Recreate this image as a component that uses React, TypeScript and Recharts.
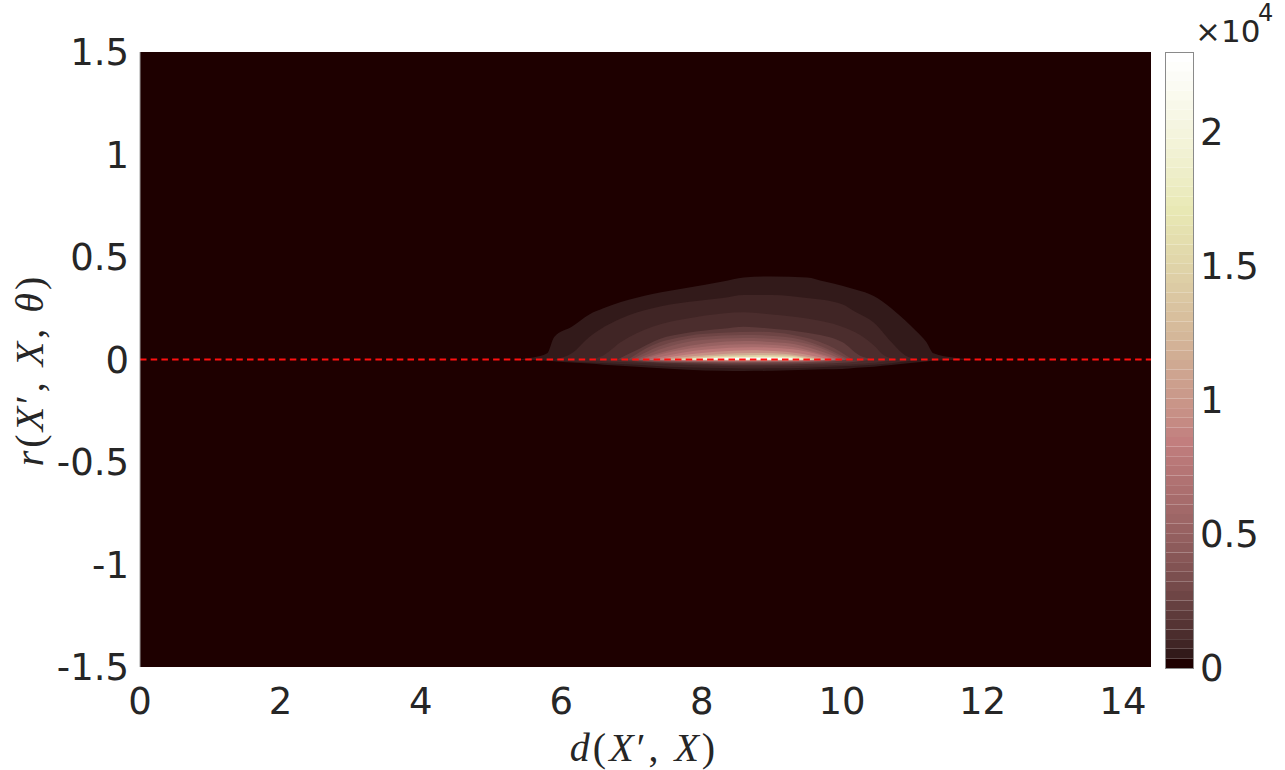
import React from "react";
import {
  ComposedChart,
  Area,
  XAxis,
  YAxis,
  CartesianGrid,
  ReferenceLine,
  BarChart,
  Bar,
} from "recharts";

// axis ticks
const xTicks = [0, 2, 4, 6, 8, 10, 12, 14];
const yTicks = [-1.5, -1, -0.5, 0, 0.5, 1, 1.5];
const cTicks = [0, 0.5, 1, 1.5, 2];
const cMax = 2.3; // x 10^4

// density bands: [d, r low, r high]
// outer band = colormap level 1, inner bands get lighter
const band01 = [
  [5.3, 0, 0], [5.6, -0.003, 0.01], [5.8, -0.006, 0.03], [5.9, -0.008, 0.11],
  [6.15, -0.015, 0.16], [6.4, -0.02, 0.22], [6.6, -0.025, 0.25], [6.85, -0.03, 0.28],
  [7.3, -0.04, 0.32], [7.8, -0.05, 0.35], [8.3, -0.055, 0.38], [8.6, -0.056, 0.4],
  [9.0, -0.055, 0.405], [9.5, -0.05, 0.4], [9.75, -0.048, 0.38], [10.0, -0.046, 0.36],
  [10.2, -0.04, 0.34], [10.45, -0.035, 0.31], [10.7, -0.027, 0.25], [10.9, -0.02, 0.19],
  [11.05, -0.015, 0.14], [11.2, -0.01, 0.085], [11.3, -0.006, 0.03], [11.6, -0.003, 0.008],
  [11.9, 0, 0],
];
const band02 = [
  [5.9, 0, 0], [6.15, -0.01, 0.03], [6.4, -0.015, 0.11], [6.85, -0.022, 0.2],
  [7.3, -0.03, 0.25], [7.8, -0.038, 0.28], [8.3, -0.042, 0.3], [8.6, -0.044, 0.315],
  [9.0, -0.043, 0.315], [9.5, -0.04, 0.3], [10.0, -0.033, 0.27], [10.2, -0.03, 0.23],
  [10.45, -0.025, 0.18], [10.7, -0.018, 0.085], [10.9, -0.01, 0.02], [11.1, 0, 0],
];
const band03 = [
  [6.4, 0, 0], [6.6, -0.008, 0.02], [6.85, -0.012, 0.085], [7.3, -0.02, 0.16],
  [7.8, -0.027, 0.2], [8.3, -0.032, 0.225], [8.6, -0.034, 0.23], [9.0, -0.034, 0.22],
  [9.5, -0.031, 0.2], [10.0, -0.026, 0.16], [10.2, -0.022, 0.13], [10.45, -0.016, 0.07],
  [10.6, -0.01, 0.02], [10.8, 0, 0],
];
const band04 = [
  [6.8, 0, 0], [7.1, -0.01, 0.05], [7.4, -0.015, 0.1], [7.8, -0.02, 0.13],
  [8.3, -0.024, 0.15], [8.6, -0.025, 0.16], [9.0, -0.025, 0.15], [9.5, -0.022, 0.13],
  [10.0, -0.016, 0.085], [10.25, -0.008, 0.02], [10.45, 0, 0],
];
const band05 = [
  [6.95, 0, 0], [7.3, -0.012, 0.07], [7.8, -0.016, 0.115], [8.3, -0.019, 0.13],
  [8.8, -0.02, 0.135], [9.3, -0.018, 0.12], [9.8, -0.012, 0.07], [10.15, 0, 0],
];
const band06 = [
  [7.0, 0, 0], [7.4, -0.01, 0.065], [8.0, -0.014, 0.11], [8.6, -0.016, 0.12],
  [9.2, -0.015, 0.11], [9.7, -0.01, 0.065], [10.1, 0, 0],
];
const band07 = [
  [7.05, 0, 0], [7.5, -0.008, 0.06], [8.0, -0.012, 0.095], [8.6, -0.013, 0.105],
  [9.2, -0.012, 0.095], [9.7, -0.008, 0.055], [10.05, 0, 0],
];
const band08 = [
  [7.1, 0, 0], [7.6, -0.007, 0.05], [8.1, -0.01, 0.08], [8.6, -0.011, 0.09],
  [9.2, -0.01, 0.08], [9.65, -0.007, 0.045], [10.0, 0, 0],
];
const band09 = [
  [7.15, 0, 0], [7.6, -0.006, 0.04], [8.1, -0.008, 0.065], [8.6, -0.009, 0.075],
  [9.2, -0.008, 0.066], [9.6, -0.005, 0.037], [9.95, 0, 0],
];
const band10 = [
  [7.25, 0, 0], [7.7, -0.005, 0.032], [8.1, -0.007, 0.05], [8.7, -0.007, 0.06],
  [9.3, -0.006, 0.05], [9.6, -0.004, 0.03], [9.9, 0, 0],
];
const band11 = [
  [7.35, 0, 0], [7.8, -0.004, 0.024], [8.2, -0.005, 0.038], [8.7, -0.006, 0.045],
  [9.2, -0.005, 0.038], [9.55, -0.003, 0.02], [9.85, 0, 0],
];
const band12 = [
  [7.45, 0, 0], [7.9, -0.003, 0.017], [8.3, -0.004, 0.027], [8.7, -0.004, 0.032],
  [9.2, -0.004, 0.027], [9.5, -0.002, 0.014], [9.8, 0, 0],
];
const band13 = [
  [7.55, 0, 0], [8.0, -0.002, 0.012], [8.4, -0.003, 0.019], [8.8, -0.003, 0.022],
  [9.2, -0.003, 0.019], [9.45, -0.002, 0.01], [9.7, 0, 0],
];
const band14 = [
  [7.65, 0, 0], [8.1, -0.001, 0.009], [8.5, -0.002, 0.013], [8.9, -0.002, 0.015],
  [9.3, -0.001, 0.011], [9.6, 0, 0],
];
const band15 = [
  [7.75, 0.001, 0.001], [8.2, 0, 0.007], [8.6, -0.001, 0.01], [9.0, -0.001, 0.01],
  [9.3, 0, 0.007], [9.5, 0.001, 0.001],
];
const band16 = [
  [7.9, 0.002, 0.002], [8.3, 0.001, 0.006], [8.7, 0.001, 0.007], [9.1, 0.001, 0.006],
  [9.4, 0.002, 0.002],
];

const bands = [band01, band02, band03, band04, band05, band06, band07, band08,
  band09, band10, band11, band12, band13, band14, band15, band16];
const bandLevels = [1, 2, 3, 5, 7, 9, 11, 14, 17, 21, 26, 32, 40, 48, 56, 63];

// MATLAB "pink" colormap, 64 entries
const N_LEVELS = 64;
const pink = (i: number) => {
  const n = N_LEVELS;
  const g = i / (n - 1);
  const k = Math.floor((3 * n) / 8);
  const hr = i < k ? (i + 1) / k : 1;
  const hg = i < k ? 0 : i < 2 * k ? (i - k + 1) / k : 1;
  const hb = i < 2 * k ? 0 : (i - 2 * k + 1) / (n - 2 * k);
  const c = (h: number) => Math.round(255 * Math.sqrt((2 * g + h) / 3));
  return `rgb(${c(hr)},${c(hg)},${c(hb)})`;
};

const bandData = bands.map((b) => b.map(([x, lo, hi]) => ({ x, r: [lo, hi] })));

const cbRow: Record<string, number | string> = { name: "cb" };
for (let i = 0; i < N_LEVELS; i++) cbRow[`l${i}`] = cMax / N_LEVELS;

const tickFont = { fontSize: 37, fill: "#262626", fontFamily: "DejaVu Sans" };

const App = () => {
  return (
    <div style={{ position: "absolute", left: 0, top: 0, width: 1285, height: 770, background: "#fff", overflow: "hidden" }}>
      <div style={{ position: "absolute", left: 0, top: 0 }}>
        <ComposedChart width={1160} height={770} margin={{ top: 52, right: 9, bottom: 63, left: 60 }}>
          <CartesianGrid fill={pink(0)} fillOpacity={1} horizontal={false} vertical={false} stroke="none" />
          <XAxis
            type="number"
            dataKey="x"
            domain={[0, 14.4]}
            ticks={xTicks}
            interval={0}
            allowDataOverflow
            height={40}
            axisLine={false}
            tickLine={false}
            tickSize={0}
            tickMargin={21}
            tick={tickFont}
          />
          <YAxis
            type="number"
            domain={[-1.5, 1.5]}
            ticks={yTicks}
            interval={0}
            allowDataOverflow
            width={80}
            axisLine={{ stroke: "#a0a0a0" }}
            tickLine={false}
            tickSize={0}
            tickMargin={11}
            tick={tickFont}
          />
          {bandData.map((d, i) => (
            <Area
              key={i}
              data={d}
              dataKey="r"
              type="monotone"
              stroke="none"
              fill={pink(bandLevels[i])}
              fillOpacity={1}
              isAnimationActive={false}
              dot={false}
              activeDot={false}
            />
          ))}
          <ReferenceLine y={0} stroke="#ff1010" strokeWidth={2} strokeDasharray="6.5 4.2" />
        </ComposedChart>
      </div>

      {/* colorbar */}
      <div style={{ position: "absolute", left: 1165, top: 0 }}>
        <BarChart
          width={120}
          height={770}
          data={[cbRow]}
          margin={{ top: 52, right: 0, bottom: 102, left: 0 }}
          barCategoryGap={0}
          barGap={0}
        >
          <XAxis dataKey="name" hide />
          <YAxis
            orientation="right"
            type="number"
            domain={[0, cMax]}
            ticks={cTicks}
            interval={0}
            allowDataOverflow
            width={92}
            axisLine={false}
            tickLine={false}
            tickSize={0}
            tickMargin={7}
            tick={tickFont}
          />
          {Array.from({ length: N_LEVELS }, (_, i) => (
            <Bar key={i} dataKey={`l${i}`} stackId="c" fill={pink(i)} isAnimationActive={false} />
          ))}
        </BarChart>
      </div>
      <div style={{ position: "absolute", left: 1165, top: 52, width: 27, height: 615, border: "1px solid #8a8a8a", pointerEvents: "none" }} />

      {/* labels */}
      <svg width={1285} height={770} style={{ position: "absolute", left: 0, top: 0, pointerEvents: "none" }}>
        <text x={1195} y={42} fontSize={31} fill="#262626" fontFamily="DejaVu Sans">×10</text>
        <text x={1258} y={21} fontSize={24} fill="#262626" fontFamily="DejaVu Sans">4</text>
        <text x={644} y={761} textAnchor="middle" fontSize={40} fill="#262626" fontFamily="Liberation Serif" letterSpacing={3}>
          <tspan fontStyle="italic">d</tspan>(<tspan fontStyle="italic">X</tspan>′, <tspan fontStyle="italic">X</tspan>)
        </text>
        <text x={43} y={370} textAnchor="middle" fontSize={40} fill="#262626" fontFamily="Liberation Serif" letterSpacing={3} transform="rotate(-90 43 370)">
          <tspan fontStyle="italic">r</tspan>(<tspan fontStyle="italic">X</tspan>′, <tspan fontStyle="italic">X</tspan>, <tspan fontStyle="italic">θ</tspan>)
        </text>
      </svg>
    </div>
  );
};

export default App;
